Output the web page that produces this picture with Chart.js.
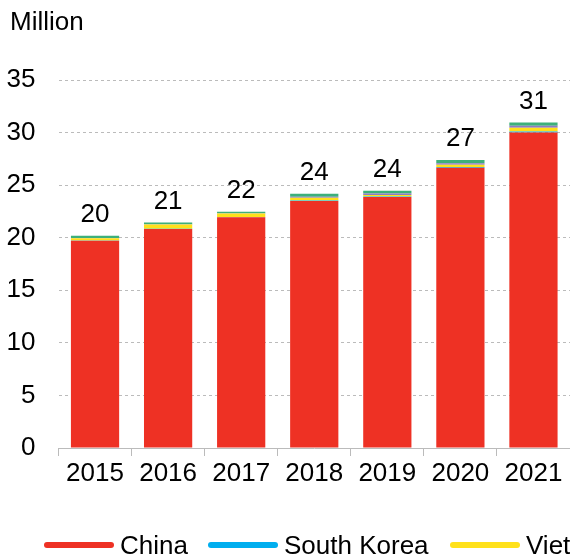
<!DOCTYPE html>
<html>
<head>
<meta charset="utf-8">
<script src="https://cdn.jsdelivr.net/npm/chart.js@4/dist/chart.umd.min.js"></script>
<style>
  html, body { margin: 0; padding: 0; background: #fff; overflow: hidden; }
  #wrap { position: relative; width: 570px; height: 555px; overflow: hidden; font-family: "Liberation Sans", Arial, sans-serif; }
  #c { position: absolute; left: 0; top: 0; }
  .lg-line { position: absolute; height: 6px; border-radius: 3px; top: 542px; }
  .lg-text { position: absolute; top: 530px; font-size: 26px; line-height: 30px; color: #000; white-space: nowrap; }
</style>
</head>
<body>
<div id="wrap">
  <canvas id="c" width="570" height="555"></canvas>
  <div class="lg-line" style="left:44px;width:70px;background:#EE3124"></div>
  <div class="lg-text" style="left:120px">China</div>
  <div class="lg-line" style="left:208px;width:70px;background:#00AEEF"></div>
  <div class="lg-text" style="left:284px">South Korea</div>
  <div class="lg-line" style="left:450px;width:70px;background:#FFE11A"></div>
  <div class="lg-text" style="left:526px">Vietnam</div>
</div>
<script>
const categories = ["2015", "2016", "2017", "2018", "2019", "2020", "2021"];
const china      = [19.70, 20.83, 21.95, 23.50, 23.87, 26.65, 30.00];
const southKorea = [0.03, 0.03, 0.03, 0.04, 0.04, 0.08, 0.10];
const vietnam    = [0.22, 0.40, 0.32, 0.26, 0.15, 0.20, 0.35];
const taiwan     = [0.03, 0.03, 0.03, 0.10, 0.15, 0.15, 0.20];
const others     = [0.20, 0.15, 0.15, 0.28, 0.25, 0.30, 0.30];
const yTicks     = [0, 5, 10, 15, 20, 25, 30, 35];
const unitLabel  = "Million";

const FONT = '"Liberation Sans", Arial, sans-serif';

const totalLabels = {
  id: 'totalLabels',
  afterDatasetsDraw(chart) {
    const ctx = chart.ctx;
    const lastMeta = chart.getDatasetMeta(chart.data.datasets.length - 1);
    ctx.save();
    ctx.font = '26px ' + FONT;
    ctx.fillStyle = '#000';
    ctx.textAlign = 'center';
    ctx.textBaseline = 'alphabetic';
    categories.forEach((c, i) => {
      const total = chart.data.datasets.reduce((s, d) => s + d.data[i], 0);
      const bar = lastMeta.data[i];
      ctx.fillText(String(Math.round(total)), bar.x, bar.y - 14);
    });
    ctx.restore();
  },
  afterDraw(chart) {
    const ctx = chart.ctx;
    ctx.save();
    ctx.font = '26px ' + FONT;
    ctx.fillStyle = '#000';
    ctx.textAlign = 'left';
    ctx.textBaseline = 'alphabetic';
    ctx.fillText(unitLabel, 10, 30);
    ctx.restore();
  }
};

const mk = (label, data, color) => ({ label, data, backgroundColor: color, borderWidth: 0, stack: 's' });

new Chart(document.getElementById('c'), {
  type: 'bar',
  data: {
    labels: categories,
    datasets: [
      mk('China', china, '#EE3124'),
      mk('South Korea', southKorea, '#00AEEF'),
      mk('Vietnam', vietnam, '#FFE11A'),
      mk('Taiwan', taiwan, '#8E7CC3'),
      mk('Others', others, '#3DB07A')
    ]
  },
  options: {
    responsive: false,
    animation: false,
    devicePixelRatio: 1,
    layout: { padding: { top: 80, right: 0, bottom: 67, left: 0 } },
    datasets: { bar: { categoryPercentage: 1.0, barPercentage: 0.66 } },
    plugins: { legend: { display: false }, tooltip: { enabled: false }, title: { display: false } },
    scales: {
      x: {
        stacked: true,
        grid: { display: true, drawOnChartArea: false, drawTicks: true, tickLength: 8, color: '#BBBBBB', offset: true },
        border: { display: true, color: '#BBBBBB', width: 1 },
        ticks: { color: '#000', font: { family: FONT, size: 26 }, padding: 2, maxRotation: 0, autoSkip: false },
        afterFit(scale) { scale.height = 40; }
      },
      y: {
        stacked: true,
        min: 0, max: 35,
        afterBuildTicks(scale) { scale.ticks = yTicks.map(v => ({ value: v })); },
        grid: { color: '#BBBBBB', drawTicks: false },
        border: { display: false, dash: [3, 3] },
        ticks: { color: '#000', font: { family: FONT, size: 26 }, padding: 23 },
        afterFit(scale) { scale.width = 58.5; }
      }
    }
  },
  plugins: [totalLabels]
});
</script>
</body>
</html>
